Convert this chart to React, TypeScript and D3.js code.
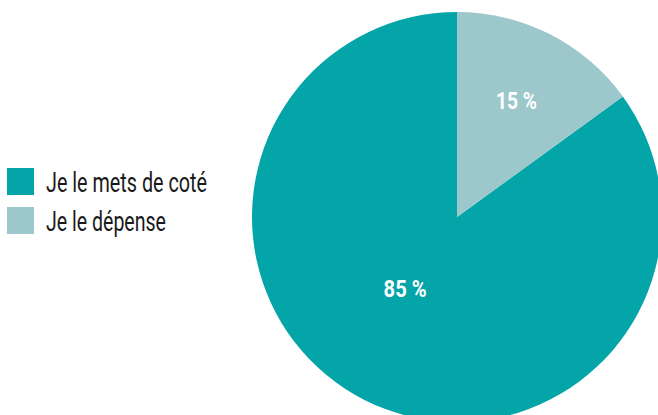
import React from "react";
import * as d3 from "d3";

const categories = ["Je le mets de coté", "Je le dépense"];
const values = [85, 15];
const labels = ["85 %", "15 %"];
const colors = ["#04A5A8", "#9CC8CC"];

const W = 658;
const H = 415;

export default function App() {
  const cx = 457;
  const cy = 217;
  const R = 205;
  // the small slice starts at 12 o'clock, clockwise
  const pie = d3
    .pie<number>()
    .sort(null)
    .startAngle(-0.85 * 2 * Math.PI)
    .endAngle(0.15 * 2 * Math.PI)
    .value((d) => d);
  const arcs = pie(values);
  const arc = d3.arc<d3.PieArcDatum<number>>().innerRadius(0).outerRadius(R);
  const labelR = [88, 131];
  const labelAngleShift = [0.16, 0];
  const labelWidths = [43, 41];
  const legendWidths = [161, 120];

  return (
    <svg
      width={W}
      height={H}
      style={{ position: "absolute", left: 0, top: 0, background: "#fff" }}
      fontFamily="Roboto, 'Liberation Sans Narrow', sans-serif"
    >
      <g transform={`translate(${cx},${cy})`}>
        {arcs.map((a, i) => (
          <path key={i} d={arc(a) || ""} fill={colors[i]} />
        ))}
        {arcs.map((a, i) => {
          const mid = (a.startAngle + a.endAngle) / 2 + labelAngleShift[i];
          const la = d3
            .arc<any>()
            .innerRadius(labelR[i])
            .outerRadius(labelR[i]);
          const [x, y] = la.centroid({ startAngle: mid, endAngle: mid });
          return (
            <text
              key={i}
              x={x}
              y={y}
              dy="0.36em"
              textAnchor="middle"
              fill="#fff"
              fontWeight="bold"
              fontSize={24}
              textLength={labelWidths[i]}
              lengthAdjust="spacingAndGlyphs"
            >
              {labels[i]}
            </text>
          );
        })}
      </g>
      <g transform="translate(7,168)">
        {categories.map((c, i) => (
          <g key={c} transform={`translate(0,${i * 39})`}>
            <rect width={27} height={27} fill={colors[i]} />
            <text
              x={39}
              y={24}
              fontSize={27}
              fill="#1a1a1a"
              textLength={legendWidths[i]}
              lengthAdjust="spacingAndGlyphs"
            >
              {c}
            </text>
          </g>
        ))}
      </g>
    </svg>
  );
}
